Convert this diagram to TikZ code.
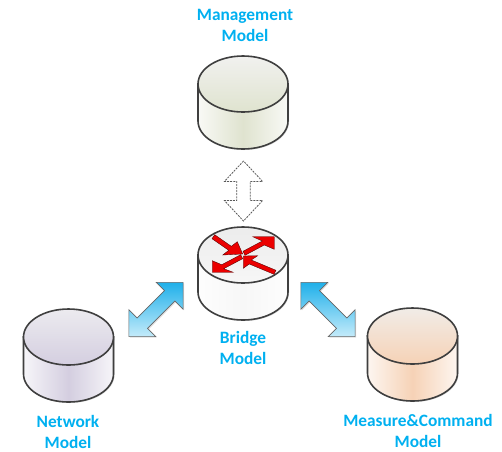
\documentclass[tikz,border=0pt]{standalone}
\usepackage{xcolor}
\usepackage{fontspec}
\setmainfont{Carlito}
\usetikzlibrary{shapes.arrows, shadows}

\definecolor{labelblue}{HTML}{00B0F0}
\definecolor{cyledge}{HTML}{3F3F3F}
\definecolor{arrowblue}{HTML}{1FB0EA}
\definecolor{arrowpale}{HTML}{C4EBFA}
\definecolor{mgmttop}{HTML}{F1F1EF}
\definecolor{mgmtmid}{HTML}{DFE3CF}
\definecolor{nettop}{HTML}{ECEBEF}
\definecolor{netmid}{HTML}{D4CEE0}
\definecolor{meastop}{HTML}{F1ECE7}
\definecolor{measmid}{HTML}{F6D2B6}
\definecolor{bridgetop}{HTML}{ECECEC}
\definecolor{bridgemid}{HTML}{F7F7F7}

\tikzset{
    modellabel/.style={font=\fontsize{13}{15.7}\selectfont\bfseries, text=labelblue, align=center},
    cyloutline/.style={draw=cyledge, line width=1.2pt},
    blockarrow/.style={double arrow, minimum height=57.5pt, minimum width=28pt, inner sep=0pt, inner ysep=5.25pt, outer sep=0pt,
        double arrow head extend=8.75pt, double arrow tip angle=90, draw=gray!80!black, line width=0.5pt,
        top color=arrowblue, bottom color=arrowpale, drop shadow={shadow xshift=0.8pt, shadow yshift=-0.8pt, opacity=0.25}},
    dashedarrow/.style={double arrow, rotate=90, minimum height=45pt, minimum width=28pt, inner sep=0pt, inner ysep=4.7pt, outer sep=0pt,
        double arrow head extend=9.3pt, double arrow tip angle=86, draw=black!65, dash pattern=on 1.5pt off 0.8pt, line width=0.6pt, fill=white},
    redarrow/.style={fill=red!92!black, draw=black!70!red, line width=0.25pt, line join=miter},
}

% cylinder: name, x, y of the lid centre, lid colour at the top, main colour
\newcommand{\modelcyl}[5]{
    \coordinate (#1) at (#2,#3);
    \fill[black, opacity=0.15] ([shift={(1,1)}]#1) ++(-45,0) -- ++(0,37) arc[start angle=180, end angle=0, x radius=45, y radius=28] -- ++(0,-37) -- cycle;
    \path[cyloutline, left color=#5!20!white, right color=#5!20!white, middle color=#5]
        (#1) ++(-45,0) -- ++(0,37) arc[start angle=180, end angle=0, x radius=45, y radius=28] -- ++(0,-37) -- cycle;
    \path[cyloutline, top color=#4, bottom color=#5] (#1) ellipse[x radius=45, y radius=28];
}

\begin{document}
\begin{tikzpicture}[x=0.75pt, y=-0.75pt]
    \useasboundingbox (0,0) rectangle (502,451);

    % the four models
    \modelcyl{mgmt}{243}{84}{mgmttop}{mgmtmid}
    \modelcyl{bridge}{243}{255}{bridgetop}{bridgemid}
    \modelcyl{network}{68.5}{337}{nettop}{netmid}
    \modelcyl{measure}{412.5}{336}{meastop}{measmid}

    \node[modellabel] (mgmtlabel) at (245,25) {Management\\Model};
    \node[modellabel] (bridgelabel) at (243,348) {Bridge\\Model};
    \node[modellabel] (networklabel) at (68,432) {Network\\Model};
    \node[modellabel] (measurelabel) at (418,431) {Measure\&Command\\Model};

    % arrows between the models
    \node[dashedarrow] (mgmtarrow) at (243.5,191) {};
    \node[blockarrow, rotate=45] (networkarrow) at (156,309.5) {};
    \node[blockarrow, rotate=-45] (measurearrow) at (328,309.5) {};

    % red arrows on the bridge lid
    \draw[redarrow] (214.7,234.7) -- (231.3,246.3) -- (237.3,241.7) -- (242.7,254) -- (222.7,255) -- (228.7,250.3) -- (212,238.7) -- cycle;
    \draw[redarrow] (243,251.3) -- (262.3,241) -- (252.7,236.7) -- (274.3,236.7) -- (274.3,249.3) -- (264.3,245) -- (245,255.3) -- cycle;
    \draw[redarrow] (240.7,254.7) -- (221.7,264.7) -- (212.3,260.7) -- (212.3,272.3) -- (233.3,272.3) -- (223.7,268.7) -- (242.7,258.7) -- cycle;
    \draw[redarrow] (276,270.3) -- (251.3,260) -- (257.7,255.7) -- (243.3,256) -- (243.3,268.3) -- (249.3,264) -- (274,274.3) -- cycle;
\end{tikzpicture}
\end{document}
